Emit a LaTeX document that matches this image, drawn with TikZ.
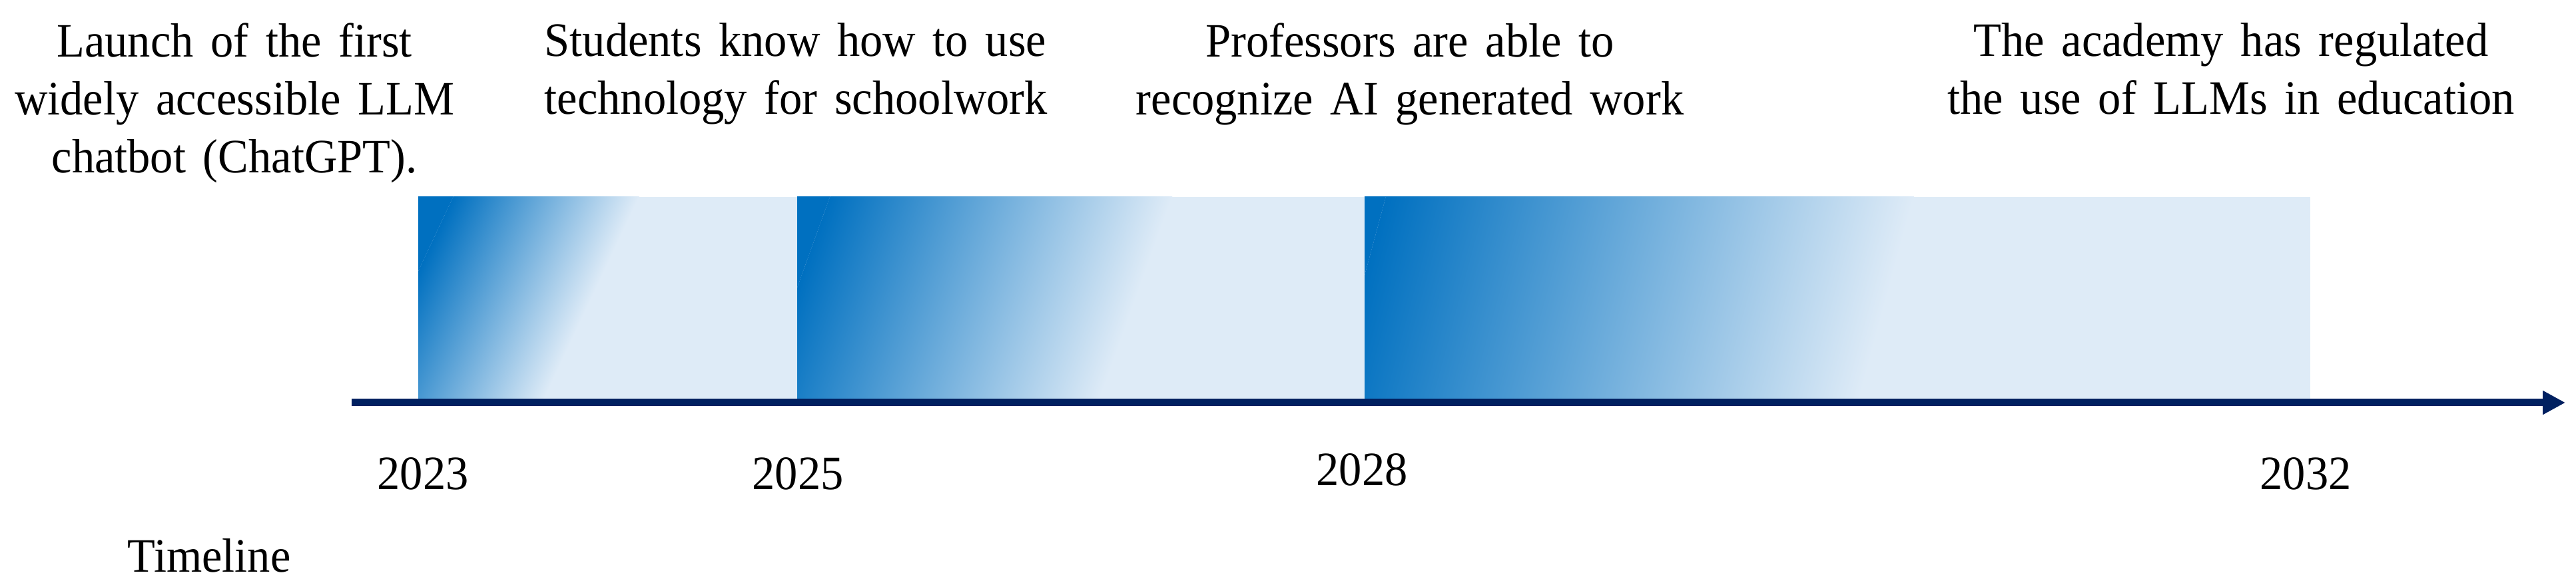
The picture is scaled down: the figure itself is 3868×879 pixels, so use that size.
\documentclass[tikz,border=0pt]{standalone}
\usepackage{fontspec}
\setmainfont{Liberation Serif}[FakeStretch=0.95, WordSpace=1.5]
\usetikzlibrary{arrows.meta}
\definecolor{dk}{RGB}{0,112,192}
\definecolor{lt}{RGB}{222,235,247}
\definecolor{navy}{RGB}{0,32,96}
% #1 left, #2 right, #3 gradient start (local), #4 gradient end (local), #5 slant
\newcommand{\gradbox}[5]{%
  \begin{scope}
    \clip (#1,280) rectangle (#2,583);
    \fill[lt] (#1,280) rectangle (#2,583);
    \begin{scope}[transform canvas={shift={(#1,280)},xslant=#5}]
      \fill[dk] (-900,-10) rectangle (#3,313);
      \shade[left color=dk,right color=lt] (#3,-10) rectangle (#4,313);
    \end{scope}
  \end{scope}}
\begin{document}
\begin{tikzpicture}[x=0.01cm,y=0.01cm,
  lbl/.style={font=\fontsize{20.5}{24.7}\selectfont, inner sep=0pt, text=black},
  axisline/.style={draw=navy, line width=0.11cm, -{Triangle[length=0.34cm,width=0.34cm]}}]
\useasboundingbox (0,0) rectangle (3868,879);
% gradient boxes
\gradbox{628}{1197}{-90}{189}{0.47}
\gradbox{1197}{2049}{-60}{454}{0.36}
\gradbox{2049}{3469}{-50}{743}{0.27}
% axis
\coordinate (axS) at (528,274);
\coordinate (axE) at (3852,274);
\draw[axisline] (axS) -- (axE);
% event texts
\node[lbl, anchor=north, align=center] (t1) at (352,845) {Launch of the first\\widely accessible LLM\\chatbot (ChatGPT).};
\node[lbl, anchor=north west, align=left] (t2) at (817,845) {Students know how to use\\technology for schoolwork};
\node[lbl, anchor=north, align=center] (t3) at (2117,845) {Professors are able to\\recognize AI generated work};
\node[lbl, anchor=north, align=center] (t4) at (3350,845) {The academy has regulated\\the use of LLMs in education};
% years
\node[lbl, anchor=base] (y1) at (635,143) {2023};
\node[lbl, anchor=base] (y2) at (1198,143) {2025};
\node[lbl, anchor=base] (y3) at (2045,149) {2028};
\node[lbl, anchor=base] (y4) at (3462,143) {2032};
\node[lbl, anchor=base] (tl) at (314,19) {Timeline};
\end{tikzpicture}
\end{document}
